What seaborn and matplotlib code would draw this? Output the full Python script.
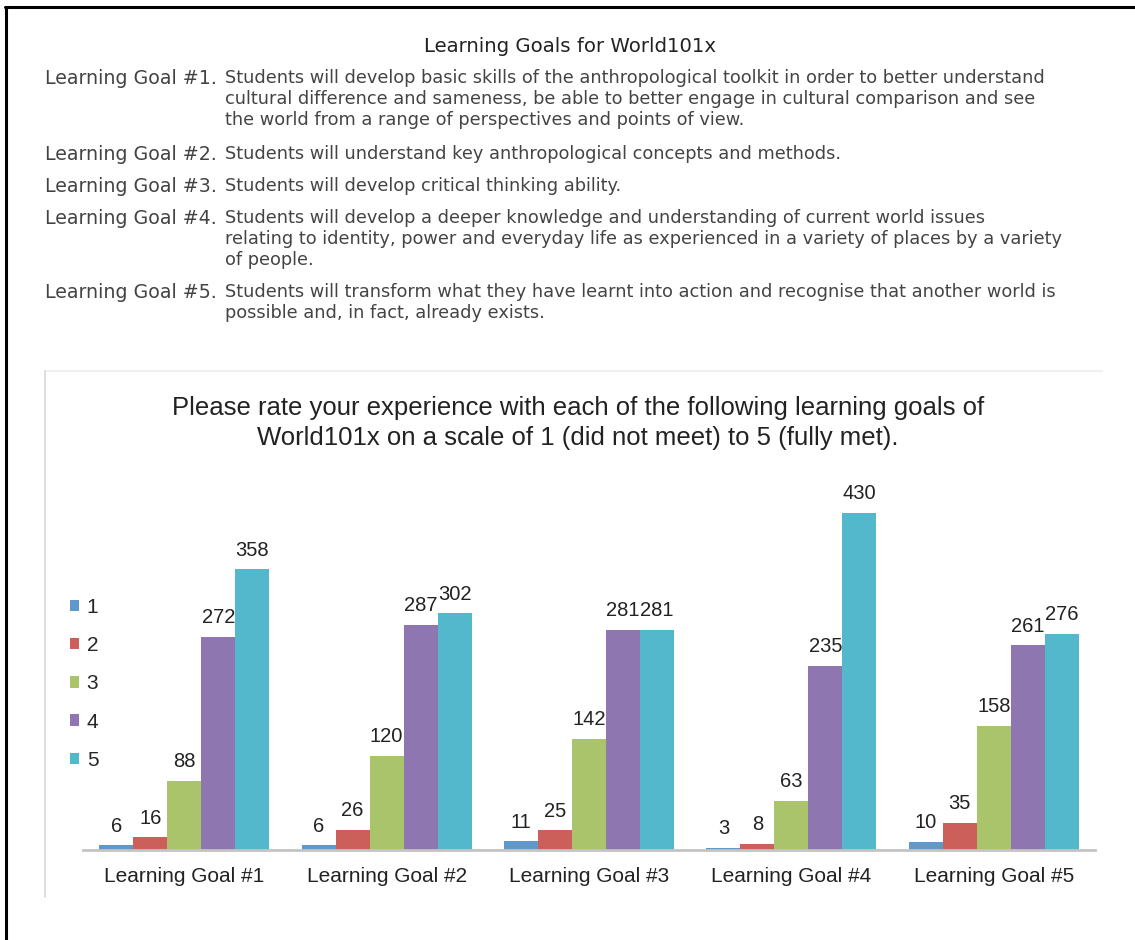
import pandas as pd
import matplotlib.pyplot as plt
import seaborn as sns
from matplotlib.lines import Line2D

goals = ['Learning Goal #1', 'Learning Goal #2', 'Learning Goal #3', 'Learning Goal #4', 'Learning Goal #5']
ratings = ['1', '2', '3', '4', '5']
r1 = [6, 6, 11, 3, 10]
r2 = [16, 26, 25, 8, 35]
r3 = [88, 120, 142, 63, 158]
r4 = [272, 287, 281, 235, 261]
r5 = [358, 302, 281, 430, 276]
colors = ['#5f98c9', '#cc5f5a', '#a9c46a', '#8e76b1', '#54b8cc']

header_title = 'Learning Goals for World101x'
header_labels = ['Learning Goal #1.', 'Learning Goal #2.', 'Learning Goal #3.', 'Learning Goal #4.', 'Learning Goal #5.']
header_texts = [
    ['Students will develop basic skills of the anthropological toolkit in order to better understand',
     'cultural difference and sameness, be able to better engage in cultural comparison and see',
     'the world from a range of perspectives and points of view.'],
    ['Students will understand key anthropological concepts and methods.'],
    ['Students will develop critical thinking ability.'],
    ['Students will develop a deeper knowledge and understanding of current world issues',
     'relating to identity, power and everyday life as experienced in a variety of places by a variety',
     'of people.'],
    ['Students will transform what they have learnt into action and recognise that another world is',
     'possible and, in fact, already exists.'],
]
chart_title = ('Please rate your experience with each of the following learning goals of\n'
               'World101x on a scale of 1 (did not meet) to 5 (fully met).')

rows = []
for rating, vals in zip(ratings, [r1, r2, r3, r4, r5]):
    for g, v in zip(goals, vals):
        rows.append({'goal': g, 'rating': rating, 'count': v})
df = pd.DataFrame(rows)

sns.set_style('white')
plt.rcParams['font.family'] = ['Liberation Sans', 'DejaVu Sans']

W, H = 1135, 940
fig = plt.figure(figsize=(W / 100, H / 100), dpi=100)

def fx(px):
    return px / W

def fy(py):
    return 1 - py / H

# black frame (top + left)
fig.add_artist(Line2D([fx(5), 1], [fy(7), fy(7)], color='black', lw=2.2, transform=fig.transFigure))
fig.add_artist(Line2D([fx(6), fx(6)], [fy(7), 0], color='black', lw=2.2, transform=fig.transFigure))

# header block (wider font to match the original's spacing)
hfont = ['DejaVu Sans']
fig.text(fx(570), fy(47), header_title, ha='center', va='center', fontsize=14.2,
         color='#222222', family=hfont)
line_y = [[78, 99, 120], [154], [186], [218, 239, 260], [292, 313]]
for lab, lines, ys in zip(header_labels, header_texts, line_y):
    fig.text(fx(45), fy(ys[0]), lab, ha='left', va='center', fontsize=13.7,
             color='#444444', family=hfont)
    for t, y in zip(lines, ys):
        fig.text(fx(225), fy(y), t, ha='left', va='center', fontsize=12.8,
                 color='#444444', family=hfont)

# chart panel edges
fig.add_artist(Line2D([fx(45), fx(1102)], [fy(371), fy(371)], color='#f0f0f0', lw=1.5, transform=fig.transFigure))
fig.add_artist(Line2D([fx(45), fx(45)], [fy(371), fy(897)], color='#d8d8d8', lw=1.2, transform=fig.transFigure))

fig.text(fx(578), fy(423), chart_title, ha='center', va='center', fontsize=18.5,
         color='#222222', linespacing=1.3)

ax = fig.add_axes([fx(83), fy(850), fx(1095) - fx(83), fy(480) - fy(850)])
sns.barplot(data=df, x='goal', y='count', hue='rating', palette=colors, saturation=1,
            width=0.84, errorbar=None, ax=ax, edgecolor='none')
ax.set_xlim(-0.5, 4.5)
ax.set_ylim(0, 472)
for c in ax.containers:
    ax.bar_label(c, padding=7, fontsize=14.5, color='#222222')

ax.set_xlabel('')
ax.set_ylabel('')
ax.set_yticks([])
ax.tick_params(axis='x', length=0, pad=12, labelsize=15, labelcolor='#222222')
for s in ['top', 'right', 'left']:
    ax.spines[s].set_visible(False)
ax.spines['bottom'].set_color('#c4c4c4')
ax.spines['bottom'].set_linewidth(2)
ax.patch.set_alpha(0)

handles, labels = ax.get_legend_handles_labels()
ax.legend(handles, labels, loc='upper left', bbox_to_anchor=(fx(70), fy(598)),
          bbox_transform=fig.transFigure, frameon=False, fontsize=15,
          handlelength=0.45, handleheight=0.45, handletextpad=0.35,
          labelspacing=0.92, borderpad=0, borderaxespad=0)

fig.savefig('out.png', dpi=100, facecolor='white')
